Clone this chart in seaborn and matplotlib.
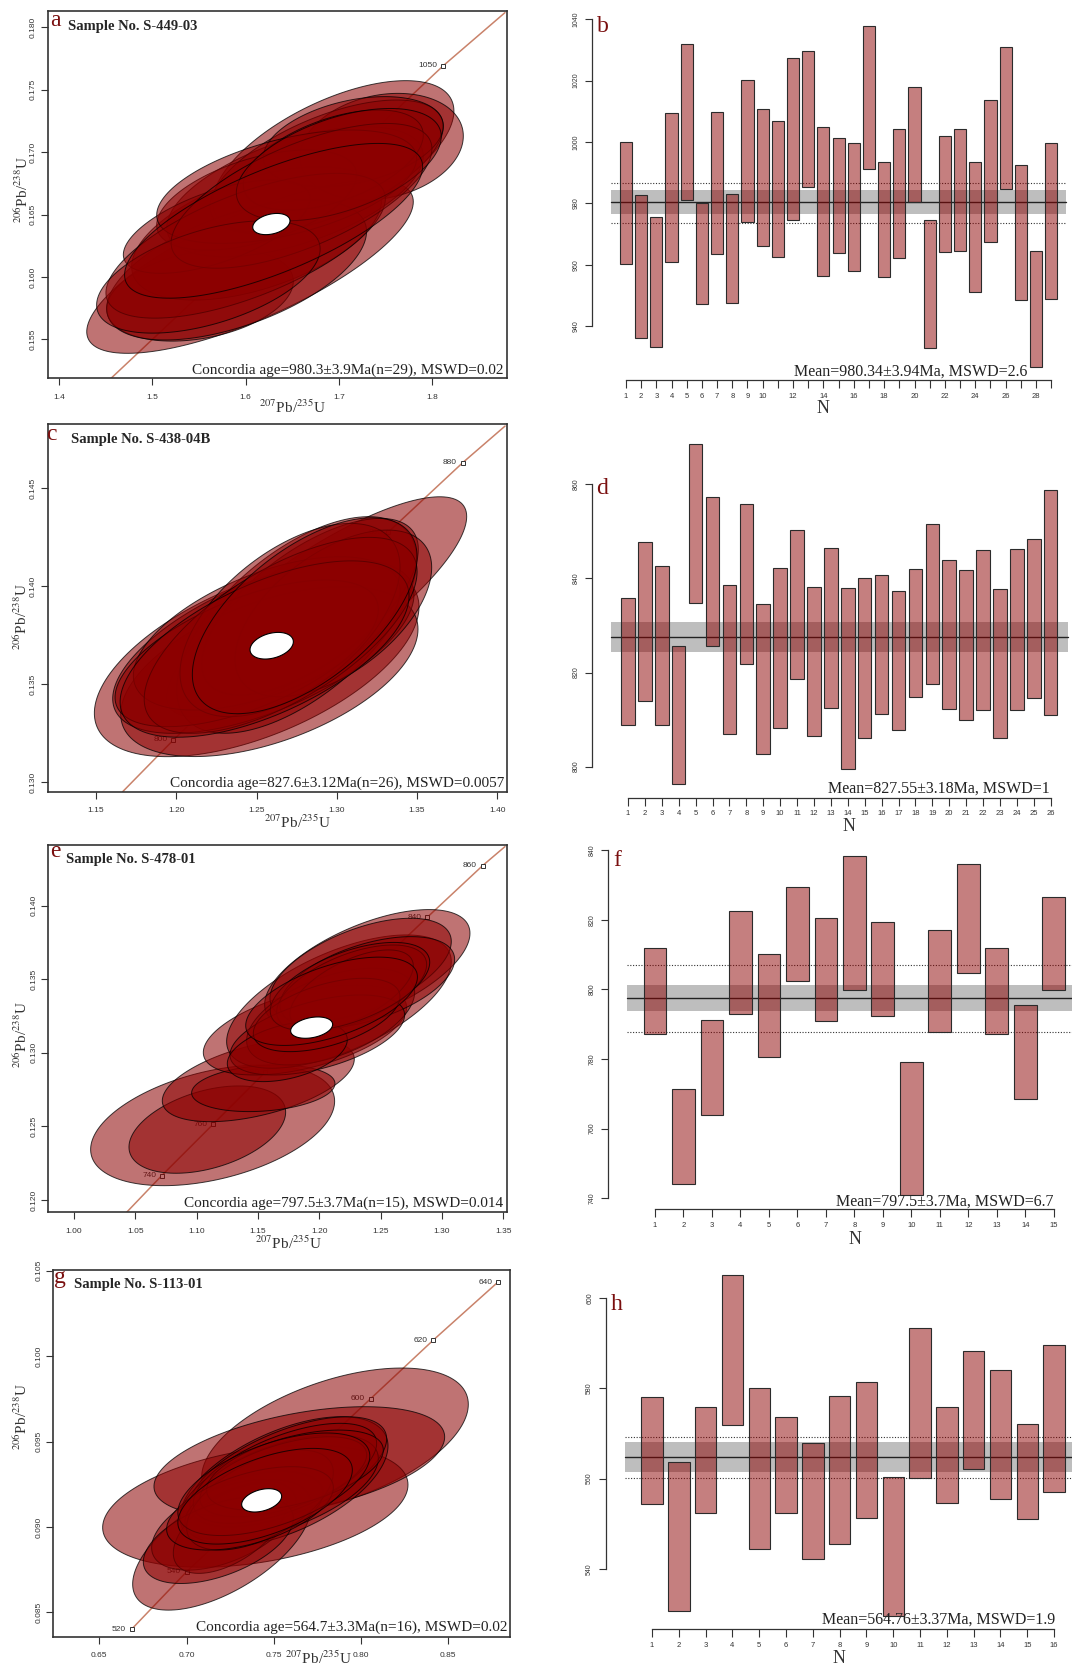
import numpy as np
import pandas as pd
import seaborn as sns
import matplotlib
matplotlib.use("Agg")
import matplotlib.pyplot as plt

W, H = 1072, 1667

# ---------------- weighted-mean panels (b, d, f, h): age intervals in Ma ----------------
b_hi = [1000.1, 982.8, 975.4, 1009.6, 1032.0, 980.2, 1009.8, 982.9, 1020.3, 1010.8, 1007.0, 1027.3, 1029.7, 1005.0, 1001.3,
        999.6, 1037.8, 993.5, 1004.1, 1018.0, 974.5, 1002.0, 1004.1, 993.5, 1013.6, 1031.1, 992.6, 964.5, 999.6]
b_lo = [960.3, 936.1, 933.3, 960.8, 981.0, 947.1, 963.4, 947.4, 973.8, 966.1, 962.5, 974.5, 985.4, 956.4, 963.7,
        957.9, 991.2, 956.0, 962.1, 980.5, 932.7, 964.2, 964.5, 951.2, 967.4, 984.7, 948.6, 926.7, 948.9]
d_hi = [835.9, 847.8, 842.6, 825.6, 868.6, 857.3, 838.5, 855.8, 834.5, 842.2, 850.2, 838.2, 846.5, 837.9, 840.0,
        840.7, 837.3, 842.1, 851.6, 843.9, 841.7, 846.0, 837.7, 846.2, 848.4, 858.8]
d_lo = [808.8, 814.0, 808.8, 796.3, 834.7, 825.6, 807.0, 821.9, 802.8, 808.2, 818.6, 806.5, 812.5, 799.5, 806.2,
        811.2, 807.9, 814.9, 817.5, 812.2, 810.0, 812.0, 806.0, 812.1, 814.5, 811.0]
f_hi = [812.0, 771.5, 791.2, 822.4, 810.1, 829.5, 820.6, 838.4, 819.4, 779.0, 817.0, 836.1, 812.0, 795.5, 826.6]
f_lo = [787.1, 744.2, 763.9, 792.9, 780.7, 802.5, 791.0, 799.9, 792.3, 740.9, 787.8, 804.6, 787.1, 768.4, 799.7]
h_hi = [578.1, 563.6, 575.9, 605.1, 580.0, 573.6, 568.0, 578.3, 581.5, 560.4, 593.3, 575.8, 588.2, 584.0, 572.2, 589.7]
h_lo = [554.5, 530.7, 552.3, 571.9, 544.5, 552.5, 542.2, 545.5, 551.4, 529.7, 560.2, 554.6, 562.1, 555.6, 551.0, 557.0]

mean_age = {"b": 980.34, "d": 827.55, "f": 797.5, "h": 564.76}
mean_err = {"b": 3.94, "d": 3.18, "f": 3.7, "h": 3.37}
dotted = {"b": (973.7, 986.6), "d": None, "f": (787.8, 807.0), "h": (560.1, 569.3)}
mean_text = {"b": "Mean=980.34±3.94Ma, MSWD=2.6", "d": "Mean=827.55±3.18Ma, MSWD=1",
             "f": "Mean=797.5±3.7Ma, MSWD=6.7", "h": "Mean=564.76±3.37Ma, MSWD=1.9"}

# ---------------- concordia panels (a, c, e, g) ----------------
# error ellipses: centre, half extent in x and y, correlation
a_cx = [1.6047, 1.6941, 1.7460, 1.5510, 1.6118, 1.6530, 1.6869, 1.5903, 1.7156, 1.6118, 1.5689, 1.6941, 1.6440,
        1.6000, 1.6600, 1.5600, 1.7000, 1.6300]
a_cy = [0.16082, 0.16964, 0.17044, 0.15855, 0.16349, 0.16683, 0.16884, 0.16056, 0.17084, 0.16616, 0.16403, 0.16937,
        0.16723, 0.16250, 0.16650, 0.16000, 0.16900, 0.16450]
a_sx = [0.1753, 0.1295, 0.0877, 0.1002, 0.1342, 0.1377, 0.1252, 0.1395, 0.0966, 0.1073, 0.1002, 0.0966, 0.1395,
        0.1500, 0.1400, 0.1200, 0.1100, 0.1600]
a_sy = [0.00694, 0.00609, 0.00427, 0.00369, 0.00534, 0.00521, 0.00534, 0.00561, 0.00361, 0.00401, 0.00374, 0.00401,
        0.00454, 0.00580, 0.00580, 0.00450, 0.00450, 0.00620]
a_rho = [0.75, 0.6, 0.2, 0.3, 0.5, 0.55, 0.6, 0.55, 0.35, 0.5, 0.6, 0.5, 0.5, 0.65, 0.65, 0.5, 0.5, 0.7]

c_cx = [1.28746, 1.25008, 1.25797, 1.2750, 1.25424, 1.28331, 1.25631, 1.29784, 1.24385, 1.27085, 1.2650, 1.2550, 1.2800]
c_cy = [0.13896, 0.13624, 0.13565, 0.13803, 0.13692, 0.13896, 0.13760, 0.13862, 0.13658, 0.13828, 0.13750, 0.13680,
        0.13850]
c_sx = [0.09344, 0.10112, 0.09261, 0.07475, 0.09385, 0.06748, 0.08306, 0.06125, 0.08202, 0.06852, 0.0850, 0.0900,
        0.0700]
c_sy = [0.005612, 0.004932, 0.004337, 0.005527, 0.004422, 0.004507, 0.003912, 0.004252, 0.003741, 0.004932, 0.0050,
        0.0045, 0.0050]
c_rho = [0.82, 0.55, 0.5, 0.6, 0.6, 0.65, 0.55, 0.55, 0.6, 0.55, 0.65, 0.6, 0.6]

e_cx = [1.11304, 1.10870, 1.15027, 1.15435, 1.18832, 1.21603, 1.23913, 1.2337, 1.20924, 1.23913, 1.22636, 1.22636,
        1.19837, 1.17391, 1.20598, 1.2250, 1.2100]
e_cy = [0.12507, 0.12478, 0.12815, 0.12759, 0.13155, 0.13348, 0.13570, 0.13563, 0.13246, 0.13479, 0.13438, 0.13427,
        0.13121, 0.13008, 0.13257, 0.13450, 0.13350]
e_sx = [0.09946, 0.06386, 0.07826, 0.05842, 0.08288, 0.09158, 0.0837, 0.07391, 0.06848, 0.0712, 0.06114, 0.05027,
        0.0712, 0.04891, 0.05978, 0.0650, 0.0700]
e_sy = [0.0041, 0.002967, 0.002831, 0.001586, 0.003058, 0.00453, 0.004032, 0.003511, 0.003284, 0.003103, 0.002945,
        0.002718, 0.002718, 0.002039, 0.002492, 0.0030, 0.0030]
e_rho = [0.4, 0.4, 0.5, 0.2, 0.5, 0.6, 0.6, 0.55, 0.5, 0.5, 0.55, 0.6, 0.5, 0.4, 0.5, 0.55, 0.55]

g_cx = [0.78505, 0.7394, 0.76461, 0.7203, 0.72144, 0.75583, 0.75831, 0.75315, 0.72488, 0.73864, 0.7564, 0.75544,
        0.7182, 0.74207, 0.76213, 0.73634, 0.7500, 0.7450]
g_cy = [0.09505, 0.09122, 0.09382, 0.08894, 0.09011, 0.09265, 0.09323, 0.09232, 0.08992, 0.09115, 0.09314, 0.09294,
        0.08923, 0.09158, 0.09333, 0.09109, 0.09250, 0.09180]
g_sx = [0.07641, 0.08749, 0.08329, 0.05119, 0.04145, 0.0596, 0.05635, 0.05673, 0.03247, 0.03954, 0.05253, 0.04776,
        0.04298, 0.04203, 0.05062, 0.04776, 0.0550, 0.0500]
g_sy = [0.004254, 0.003571, 0.00322, 0.003805, 0.002634, 0.003805, 0.00322, 0.003083, 0.002634, 0.002107, 0.002927,
        0.002341, 0.002537, 0.002927, 0.002341, 0.002439, 0.0030, 0.0028]
g_rho = [0.5, 0.35, 0.45, 0.6, 0.5, 0.55, 0.6, 0.55, 0.55, 0.4, 0.6, 0.55, 0.5, 0.55, 0.5, 0.5, 0.55, 0.55]

# concordia-age ellipses (white): cx, cy, sx, sy, rho
age_ell = {"a": (1.6276, 0.16424, 0.0200, 0.00085, 0.3), "c": (1.25943, 0.13697, 0.0135, 0.00068, 0.3),
           "e": (1.19375, 0.13171, 0.01712, 0.000725, 0.3), "g": (0.74303, 0.09156, 0.01146, 0.000683, 0.35)}

# concordia curve points
conc_a_x = [1.4555, 1.8122, 1.8784]
conc_a_y = [0.15188, 0.17693, 0.18118]
conc_c_x = [1.1666, 1.1982, 1.3321, 1.3784, 1.4048]
conc_c_y = [0.12952, 0.13216, 0.14277, 0.14631, 0.14818]
conc_e_x = [1.04293, 1.0715, 1.1136, 1.1557, 1.28804, 1.33315, 1.35136]
conc_e_y = [0.11916, 0.12165, 0.12516, 0.12867, 0.13921, 0.14272, 0.14401]
conc_g_x = [0.66853, 0.7000, 0.80549, 0.84140, 0.8783]
conc_g_y = [0.08402, 0.08738, 0.09751, 0.10094, 0.10432]
# age ticks on the concordia (age, x, y)
marks = {"a": [(1050, 1.8122, 0.17693)],
         "c": [(880, 1.3784, 0.14631), (860, 1.3321, 0.14277), (800, 1.1982, 0.13216)],
         "e": [(860, 1.33315, 0.14272), (840, 1.28804, 0.13921), (780, 1.1557, 0.12867),
               (760, 1.1136, 0.12516), (740, 1.0715, 0.12165)],
         "g": [(640, 0.8783, 0.10432), (620, 0.8414, 0.10094), (600, 0.80549, 0.09751),
               (540, 0.7000, 0.08738), (520, 0.66853, 0.08402)]}
samples = {"a": "S-449-03", "c": "S-438-04B", "e": "S-478-01", "g": "S-113-01"}
conc_text = {"a": "Concordia age=980.3±3.9Ma(n=29), MSWD=0.02",
             "c": "Concordia age=827.6±3.12Ma(n=26), MSWD=0.0057",
             "e": "Concordia age=797.5±3.7Ma(n=15), MSWD=0.014",
             "g": "Concordia age=564.7±3.3Ma(n=16), MSWD=0.02"}

sns.set_style("ticks")
plt.rcParams["font.family"] = ["Liberation Sans", "DejaVu Sans"]
plt.rcParams["mathtext.fontset"] = "stix"

SERIF = "Liberation Serif"
RED = (0.55, 0.0, 0.0)
LETTER = "#7a0f0f"

fig = plt.figure(figsize=(W / 100, H / 100), dpi=100)


def box(l, t, r, b):
    return fig.add_axes([l / W, 1 - b / H, (r - l) / W, (b - t) / H])


def ftext(x, y, s, **kw):
    fig.text(x / W, 1 - y / H, s, **kw)


def ellipse_xy(cx, cy, sx, sy, rho):
    t = np.linspace(0, 2 * np.pi, 160)
    return cx + sx * np.cos(t), cy + sy * (rho * np.cos(t) + np.sqrt(1 - rho ** 2) * np.sin(t))


def concordia_panel(key, pos, xlim, ylim, xticks, yticks, xfmt, yfmt, ell, cx, cy, letter_xy, sample_xy,
                    text_xy, xlab_xy, ylab_xy):
    ax = box(*pos)
    # concordia line and age marks
    sns.lineplot(x=cx, y=cy, sort=False, color="#c9826a", linewidth=1.1, ax=ax, zorder=1)
    for age, mx, my in marks[key]:
        ax.plot(mx, my, marker="s", ms=3.2, mfc="white", mec="#333333", mew=0.7, zorder=2)
        ax.annotate(str(age), (mx, my), xytext=(-4, 0), textcoords="offset points", ha="right", va="center",
                    fontsize=6, color="#333333", zorder=2)
    for ex, ey, sx, sy, r in zip(*ell):
        x, y = ellipse_xy(ex, ey, sx, sy, r)
        ax.fill(x, y, facecolor=RED + (0.55,), edgecolor=(0, 0, 0, 0.75), linewidth=0.7, zorder=3)
    x, y = ellipse_xy(*age_ell[key])
    ax.fill(x, y, facecolor="white", edgecolor="black", linewidth=0.8, zorder=4)
    ax.set_xlim(*xlim)
    ax.set_ylim(*ylim)
    ax.set_xticks(xticks)
    ax.set_xticklabels([xfmt.format(v) for v in xticks])
    ax.set_yticks(yticks)
    ax.set_yticklabels([yfmt.format(v) for v in yticks], rotation=90, va="center")
    ax.tick_params(axis="x", length=5, width=0.8, pad=6, labelsize=6, colors="#333333")
    ax.tick_params(axis="y", length=5, width=0.8, pad=3, labelsize=6, colors="#333333")
    for s in ax.spines.values():
        s.set_color("#333333")
        s.set_linewidth(1.2)
    ax.set_xlabel("")
    ax.set_ylabel("")
    ftext(*letter_xy, key, fontsize=17, color=LETTER, family=SERIF, ha="center", va="center")
    ftext(*sample_xy, "Sample No. " + samples[key], fontsize=10.5, fontweight="bold", family=SERIF,
          ha="left", va="center")
    ftext(*text_xy, conc_text[key], fontsize=11, family=SERIF, ha="right", va="baseline", color="#222222")
    ftext(*xlab_xy, "$^{207}$Pb/$^{235}$U", fontsize=11, family=SERIF, ha="center", va="center",
          color="#333333")
    ftext(*ylab_xy, "$^{206}$Pb/$^{238}$U", fontsize=11, family=SERIF, ha="center", va="center",
          rotation=90, color="#333333")


def mean_panel(key, pos, xlim, ylim, yticks, hi, lo, xlabels, letter_xy, text_xy, n_xy):
    ax = box(*pos)
    n = len(hi)
    df = pd.DataFrame({"N": np.arange(1, n + 1), "span": np.array(hi) - np.array(lo)})
    sns.barplot(data=df, x="N", y="span", bottom=lo, native_scale=True, width=0.8, color=RED, saturation=1,
                errorbar=None, edgecolor="#2b2b2b", linewidth=0.8, ax=ax, zorder=3)
    for p in ax.patches:
        p.set_facecolor(RED + (0.5,))
    m, e = mean_age[key], mean_err[key]
    ax.fill_between([0, n + 1], m - e, m + e, color="#bebebe", linewidth=0, zorder=1)
    ax.plot([0, n + 1], [m, m], color="#222222", linewidth=1.0, zorder=2)
    if dotted[key] is not None:
        for v in dotted[key]:
            ax.plot([0, n + 1], [v, v], color="#333333", linewidth=0.8, linestyle=(0, (1, 1.5)), zorder=2)
    ax.set_xlim(*xlim)
    ax.set_ylim(*ylim)
    ax.set_xticks(range(1, n + 1))
    ax.set_xticklabels(xlabels)
    ax.set_yticks(yticks)
    ax.set_yticklabels([str(v) for v in yticks], rotation=90, va="center")
    ax.tick_params(axis="x", length=6, width=0.8, pad=3, labelsize=5.5, colors="#333333")
    ax.tick_params(axis="y", length=5, width=0.8, pad=4, labelsize=5, colors="#333333")
    sns.despine(ax=ax)
    ax.spines["left"].set_bounds(yticks[0], yticks[-1])
    ax.spines["bottom"].set_bounds(1, n)
    for s in ("left", "bottom"):
        ax.spines[s].set_color("#333333")
        ax.spines[s].set_linewidth(0.9)
    ax.set_xlabel("")
    ax.set_ylabel("")
    ax.patch.set_alpha(0)
    ftext(*letter_xy, key, fontsize=17, color=LETTER, family=SERIF, ha="center", va="center")
    ftext(*text_xy, mean_text[key], fontsize=11.5, family=SERIF, ha="right", va="baseline",
          color="#222222", zorder=10)
    ftext(*n_xy, "N", fontsize=13, family=SERIF, ha="center", va="center", color="#333333")


concordia_panel("a", (47.7, 11, 507.3, 378.3), (1.3875, 1.8809), (0.15188, 0.18131),
                [1.4, 1.5, 1.6, 1.7, 1.8], [0.155, 0.16, 0.165, 0.17, 0.175, 0.18], "{:.1f}", "{:.3f}",
                (a_cx, a_cy, a_sx, a_sy, a_rho), conc_a_x, conc_a_y,
                (55, 20), (68.3, 26.7), (504, 374), (292, 407), (21.7, 190))
concordia_panel("c", (47.7, 424.3, 507.3, 791.7), (1.1199, 1.4062), (0.12952, 0.14827),
                [1.15, 1.2, 1.25, 1.3, 1.35, 1.4], [0.13, 0.135, 0.14, 0.145], "{:.2f}", "{:.3f}",
                (c_cx, c_cy, c_sx, c_sy, c_rho), conc_c_x, conc_c_y,
                (51.7, 434), (70.7, 439), (504, 786.7), (297, 822), (20.7, 616.7))
concordia_panel("e", (48.3, 845, 507.3, 1212.3), (0.97908, 1.35326), (0.11916, 0.14412),
                [1.0, 1.05, 1.1, 1.15, 1.2, 1.25, 1.3, 1.35], [0.12, 0.125, 0.13, 0.135, 0.14], "{:.2f}", "{:.3f}",
                (e_cx, e_cy, e_sx, e_sy, e_rho), conc_e_x, conc_e_y,
                (55, 851), (66, 859), (503.3, 1206.7), (288, 1243), (20.7, 1035))
concordia_panel("g", (53.3, 1270, 510, 1636.7), (0.62364, 0.88534), (0.08358, 0.10504),
                [0.65, 0.7, 0.75, 0.8, 0.85], [0.085, 0.09, 0.095, 0.1, 0.105], "{:.2f}", "{:.3f}",
                (g_cx, g_cy, g_sx, g_sy, g_rho), conc_g_x, conc_g_y,
                (60, 1278), (74, 1284.3), (507.3, 1631), (318, 1658), (20.7, 1416.7))

b_labels = [str(i) if (i <= 10 or i % 2 == 0) else "" for i in range(1, 30)]
mean_panel("b", (592.3, 0, 1072, 380), (-1.22, 30.37), (922.4, 1046.3), [940, 960, 980, 1000, 1020, 1040],
           b_hi, b_lo, b_labels, (602.7, 27), (1027, 376), (823.3, 408))
mean_panel("d", (592.3, 420, 1072, 797.7), (-1.11, 27.26), (793.41, 873.66), [800, 820, 840, 860],
           d_hi, d_lo, [str(i) for i in range(1, 27)], (601.7, 489), (1050, 792.7), (849.3, 826.7))
mean_panel("f", (608.3, 835, 1072, 1209.3), (-0.64, 15.64), (736.84, 844.31), [740, 760, 780, 800, 820, 840],
           f_hi, f_lo, [str(i) for i in range(1, 16)], (617.3, 860), (1054, 1205.7), (855.3, 1239))
mean_panel("h", (605.7, 1250, 1072, 1629), (-0.728, 16.67), (526.72, 610.63), [540, 560, 580, 600],
           h_hi, h_lo, [str(i) for i in range(1, 17)], (616.7, 1304), (1055, 1624), (839.3, 1658.3))

fig.savefig("out.png", dpi=100, facecolor="white")
